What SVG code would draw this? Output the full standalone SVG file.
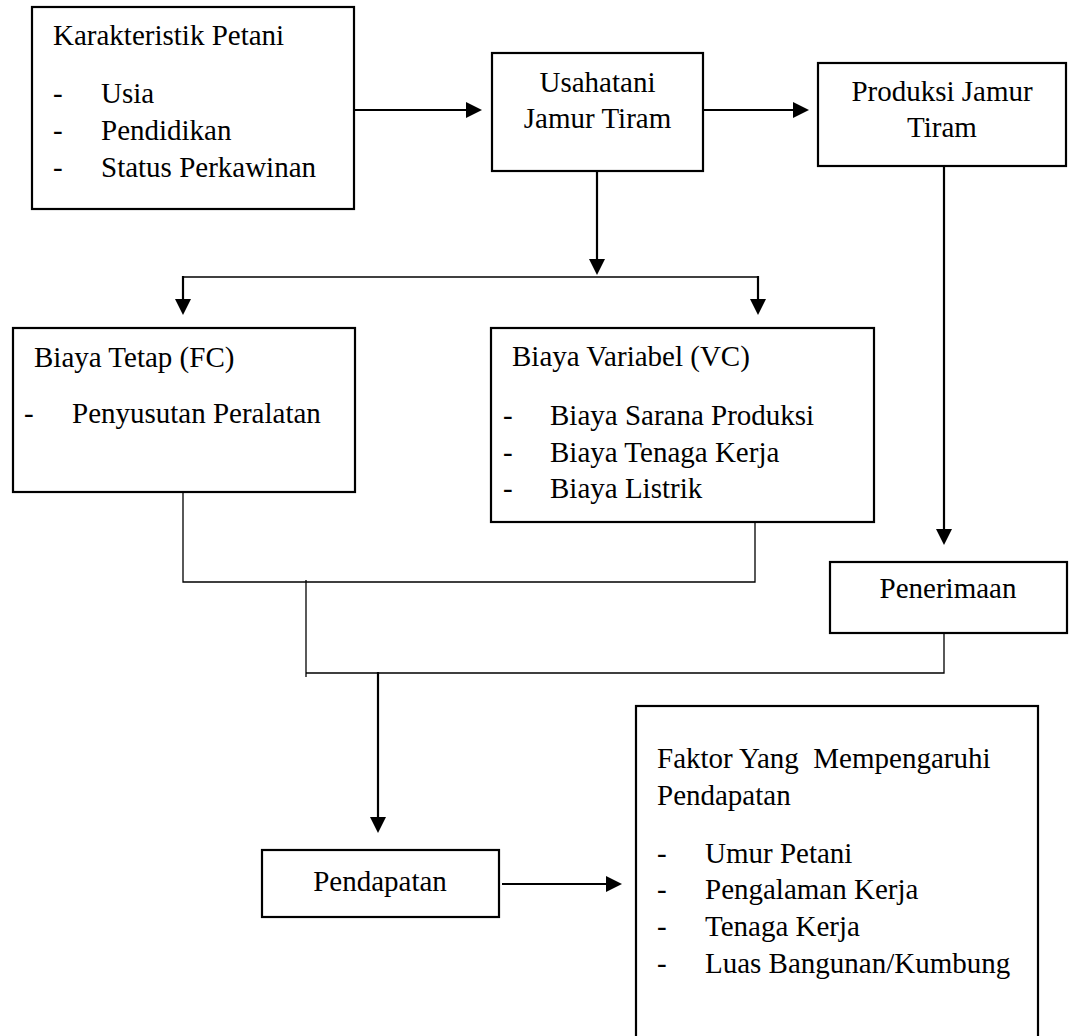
<svg xmlns="http://www.w3.org/2000/svg" width="1069" height="1036" viewBox="0 0 1069 1036">
<style>
.box{fill:#fff;stroke:#000;stroke-width:2.2}
text{font-family:"Liberation Serif","Times New Roman",serif;font-size:29px;fill:#000;white-space:pre}
.c{text-anchor:middle}
.arr{fill:none;stroke:#000;stroke-width:2.2}
.thin{fill:none;stroke:#000;stroke-width:1.3}
</style>
<defs>
<marker id="ah" markerUnits="userSpaceOnUse" markerWidth="16" markerHeight="16" refX="0" refY="8" orient="auto">
<path d="M0,0 L16,8 L0,16 Z" fill="#000"/>
</marker>
</defs>
<rect width="1069" height="1036" fill="#fff"/>
<g id="connectors">
<line class="arr" x1="354" y1="110" x2="466" y2="110" marker-end="url(#ah)"/>
<line class="arr" x1="703" y1="110" x2="793" y2="110" marker-end="url(#ah)"/>
<line class="arr" x1="597" y1="171" x2="597" y2="259" marker-end="url(#ah)"/>
<line class="thin" x1="183" y1="277" x2="759" y2="277"/>
<line class="arr" x1="183" y1="276" x2="183" y2="299" marker-end="url(#ah)"/>
<line class="arr" x1="758" y1="276" x2="758" y2="299" marker-end="url(#ah)"/>
<line class="arr" x1="944" y1="166" x2="944" y2="529" marker-end="url(#ah)"/>
<polyline class="thin" points="183,489 183,582 755,582 755,517"/>
<line class="thin" x1="306" y1="580" x2="306" y2="677"/>
<polyline class="thin" points="306,673 944,673 944,619"/>
<line class="arr" x1="378" y1="672" x2="378" y2="817" marker-end="url(#ah)"/>
<line class="arr" x1="502" y1="884" x2="606" y2="884" marker-end="url(#ah)"/>
</g>
<g id="karakteristik">
<rect class="box" x="32" y="7" width="322" height="202"/>
<text x="53" y="45">Karakteristik Petani</text>
<text x="53" y="103">-</text>
<text x="101" y="103">Usia</text>
<text x="53" y="140">-</text>
<text x="101" y="140">Pendidikan</text>
<text x="53" y="177">-</text>
<text x="101" y="177">Status Perkawinan</text>
</g>
<g id="usahatani">
<rect class="box" x="492" y="53" width="211" height="118"/>
<text class="c" x="597.5" y="92">Usahatani</text>
<text class="c" x="597.5" y="128">Jamur Tiram</text>
</g>
<g id="produksi">
<rect class="box" x="818" y="63" width="248" height="103"/>
<text class="c" x="942" y="101">Produksi Jamur</text>
<text class="c" x="942" y="137">Tiram</text>
</g>
<g id="biaya-tetap">
<rect class="box" x="13" y="328" width="342" height="164"/>
<text x="34" y="367">Biaya Tetap (FC)</text>
<text x="24" y="423">-</text>
<text x="72" y="423">Penyusutan Peralatan</text>
</g>
<g id="biaya-variabel">
<rect class="box" x="491" y="328" width="383" height="194"/>
<text x="512" y="366">Biaya Variabel (VC)</text>
<text x="503" y="425">-</text>
<text x="550" y="425">Biaya Sarana Produksi</text>
<text x="503" y="462">-</text>
<text x="550" y="462">Biaya Tenaga Kerja</text>
<text x="503" y="498">-</text>
<text x="550" y="498">Biaya Listrik</text>
</g>
<g id="penerimaan">
<rect class="box" x="830" y="562" width="237" height="71"/>
<text class="c" x="948" y="598">Penerimaan</text>
</g>
<g id="pendapatan">
<rect class="box" x="262" y="850" width="237" height="67"/>
<text class="c" x="380" y="891">Pendapatan</text>
</g>
<g id="faktor">
<rect class="box" x="636" y="706" width="402" height="340"/>
<text x="657" y="768">Faktor Yang  Mempengaruhi</text>
<text x="657" y="805">Pendapatan</text>
<text x="657" y="863">-</text>
<text x="705" y="863">Umur Petani</text>
<text x="657" y="899">-</text>
<text x="705" y="899">Pengalaman Kerja</text>
<text x="657" y="936">-</text>
<text x="705" y="936">Tenaga Kerja</text>
<text x="657" y="973">-</text>
<text x="705" y="973">Luas Bangunan/Kumbung</text>
</g>
</svg>
